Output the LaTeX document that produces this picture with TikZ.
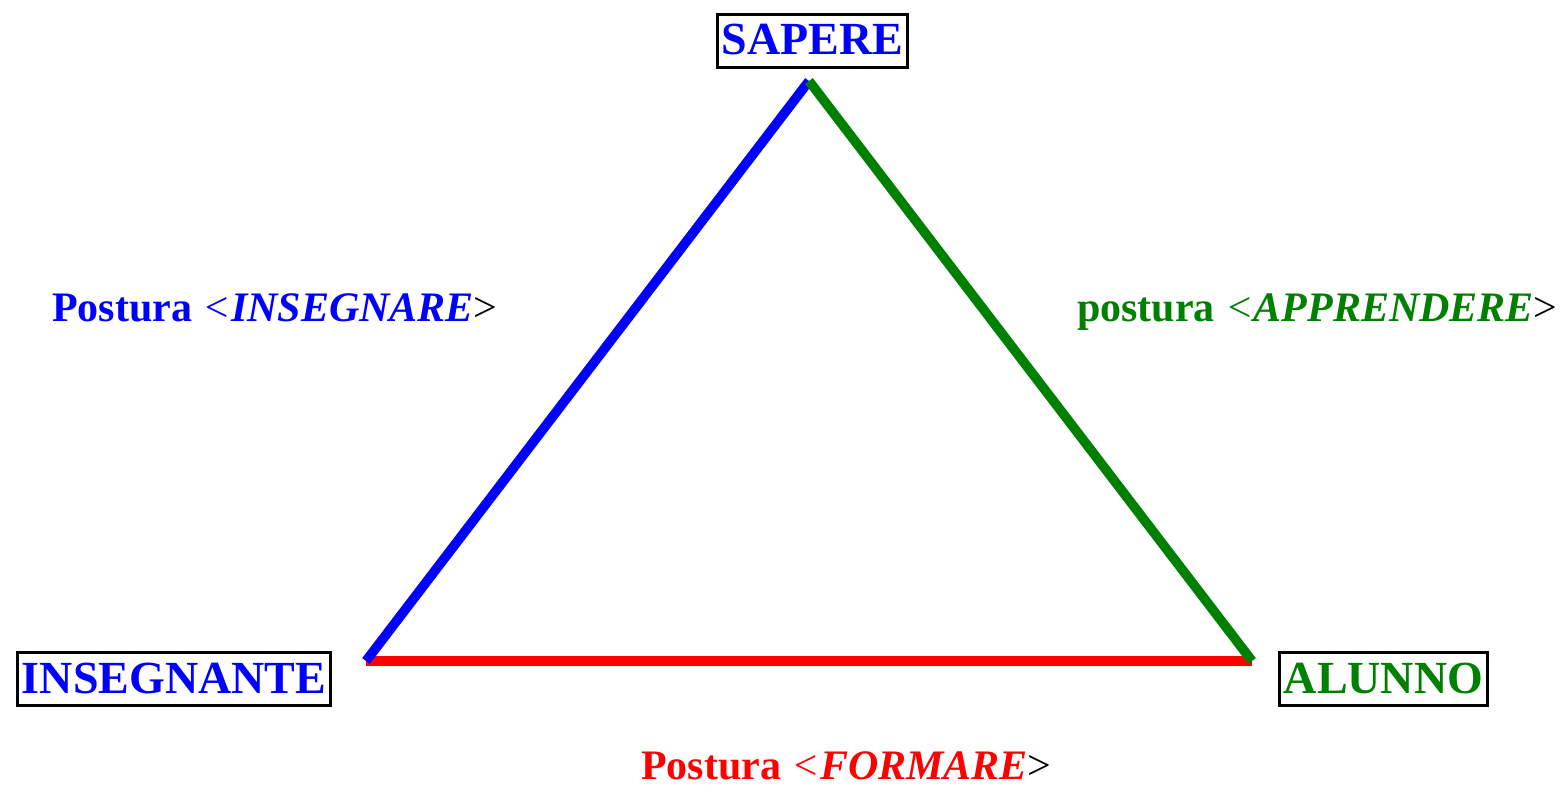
\documentclass[tikz,border=0pt]{standalone}
\usepackage{fontspec}
\setmainfont{Liberation Serif}
\usetikzlibrary{positioning}
\definecolor{vgreen}{RGB}{0,128,0}

\begin{document}
\begin{tikzpicture}[
    x=0.75pt, y=-0.75pt,
    vbox/.style={draw=black, line width=2.25pt, inner xsep=3pt, inner ysep=0pt,
                 text height=30.5pt, text depth=9.5pt,
                 font=\fontsize{34.5}{40}\selectfont\bfseries},
    side/.style={line width=7.2pt},
    postlbl/.style={anchor=base west, inner sep=0pt,
                    font=\fontsize{31.5}{36}\selectfont\bfseries}
  ]
  \useasboundingbox (0,0) rectangle (1565,787);

  % Corners of the triangle
  \coordinate (top) at (809,81);
  \coordinate (lt) at (366,661);
  \coordinate (rt) at (1252,661);

  % Sides
  \draw[side, red] (lt) -- (rt);
  \draw[side, blue] (lt) -- (top);
  \draw[side, vgreen] (top) -- (rt);

  % Vertex labels
  \node[vbox, text=blue, anchor=base] (sap) at (812.5,55) {SAPERE};
  \node[vbox, text=blue, anchor=base] (ins) at (174,693) {INSEGNANTE};
  \node[vbox, text=vgreen, anchor=base] (alu) at (1383.5,693) {ALUNNO};

  % Postures
  \node[postlbl, text=blue] (pins) at (52,322)
    {Postura {\mdseries\textit{<}}\textit{INSEGNARE}\textcolor{black}{\mdseries >}};
  \node[postlbl, text=vgreen] (papp) at (1077,322)
    {postura {\mdseries\textit{<}}\textit{APPRENDERE}\textcolor{black}{\mdseries >}};
  \node[postlbl, text=red] (pfor) at (641,779)
    {Postura {\mdseries\textit{<}}\textit{FORMARE}\textcolor{black}{\mdseries >}};
\end{tikzpicture}
\end{document}
